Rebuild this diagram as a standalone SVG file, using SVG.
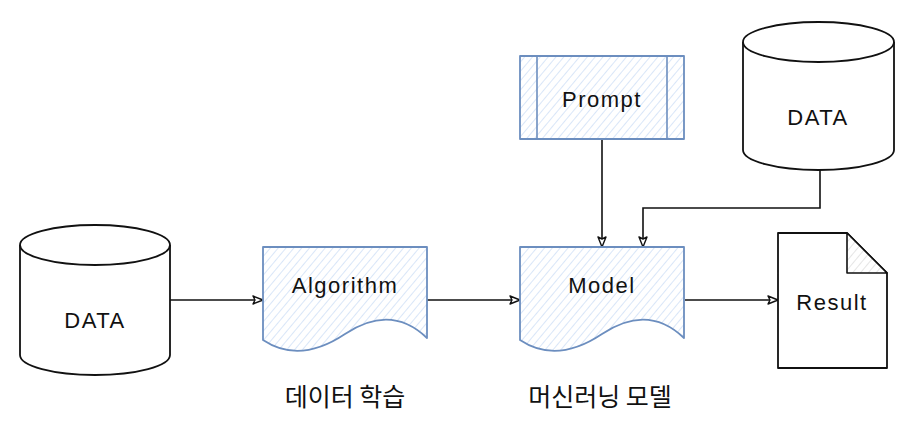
<svg xmlns="http://www.w3.org/2000/svg" width="905" height="437" viewBox="0 0 905 437">
<style>
.lbl{font-family:"Liberation Sans","Noto Sans",sans-serif;font-size:22px;letter-spacing:1.5px;fill:#111;text-anchor:middle;dominant-baseline:central}
.kr{font-family:"Noto Sans CJK KR","Noto Sans",sans-serif;font-size:25px;fill:#111;text-anchor:middle;dominant-baseline:central}
.blue{fill:url(#hatchBlue);stroke:#6c8ebf;stroke-width:1.8;stroke-linejoin:round}
.blk{fill:#fff;stroke:#111;stroke-width:1.8;stroke-linejoin:round}
.edge{fill:none;stroke:#111;stroke-width:1.6;marker-end:url(#arr)}
</style>
<defs>
<pattern id="hatchBlue" patternUnits="userSpaceOnUse" width="6" height="6" patternTransform="rotate(40)">
<rect width="6" height="6" fill="#fff"/>
<line x1="0" y1="0" x2="0" y2="6" stroke="#c9dcf5" stroke-width="1.4"/>
</pattern>
<pattern id="hatchGrey" patternUnits="userSpaceOnUse" width="6" height="6" patternTransform="rotate(40)">
<rect width="6" height="6" fill="#fff"/>
<line x1="0" y1="0" x2="0" y2="6" stroke="#d4d4d4" stroke-width="1.2"/>
</pattern>
<marker id="arr" viewBox="0 0 12 10" refX="11" refY="5" markerWidth="12" markerHeight="10" markerUnits="userSpaceOnUse" orient="auto">
<path d="M1,1 L11,5 L1,9 L3,5 Z" fill="#fff" stroke="#111" stroke-width="1.4" stroke-linejoin="round"/>
</marker>
</defs>

<g id="connectors">
<path class="edge" d="M170,300 H263"/>
<path class="edge" d="M427,300 H520"/>
<path class="edge" d="M685,300 H778"/>
<path class="edge" d="M602,139 V247"/>
<path class="edge" d="M820,170 V208 H643 V247"/>
</g>

<g id="data-left">
<path class="blk" d="M20,245 A75,20 0 0 1 170,245 V355 A75,20 0 0 1 20,355 Z"/>
<path class="blk" d="M20,245 A75,20 0 0 0 170,245" fill="none"/>
<text class="lbl" x="95" y="320">DATA</text>
</g>

<g id="algorithm">
<path class="blue" d="M263,247 H427 V338 C402,314 375,314 345,334 C315,354 287,356 263,340 Z"/>
<text class="lbl" x="345" y="285">Algorithm</text>
</g>

<g id="model">
<path class="blue" d="M520,247 H684 V338 C659,314 632,314 602,334 C572,354 544,356 520,340 Z"/>
<text class="lbl" x="602" y="285">Model</text>
</g>

<g id="prompt">
<rect class="blue" x="520" y="56" width="164" height="83"/>
<line x1="537" y1="56" x2="537" y2="139" stroke="#6c8ebf" stroke-width="1.6"/>
<line x1="667" y1="56" x2="667" y2="139" stroke="#6c8ebf" stroke-width="1.6"/>
<text class="lbl" x="602" y="99">Prompt</text>
</g>

<g id="data-top">
<path class="blk" d="M743,42 A75.5,20 0 0 1 894,42 V150 A75.5,20 0 0 1 743,150 Z"/>
<path class="blk" d="M743,42 A75.5,20 0 0 0 894,42" fill="none"/>
<text class="lbl" x="818" y="117">DATA</text>
</g>

<g id="result">
<path class="blk" d="M778,233 H847 L887,273 V368 H778 Z"/>
<path d="M847,233 V273 H887 Z" fill="url(#hatchGrey)" stroke="#111" stroke-width="1.6" stroke-linejoin="round"/>
<text class="lbl" x="832" y="302">Result</text>
</g>

<g id="label-train">
<text class="kr" x="345" y="395">데이터 학습</text>
</g>
<g id="label-model">
<text class="kr" x="600" y="395">머신러닝 모델</text>
</g>
</svg>
